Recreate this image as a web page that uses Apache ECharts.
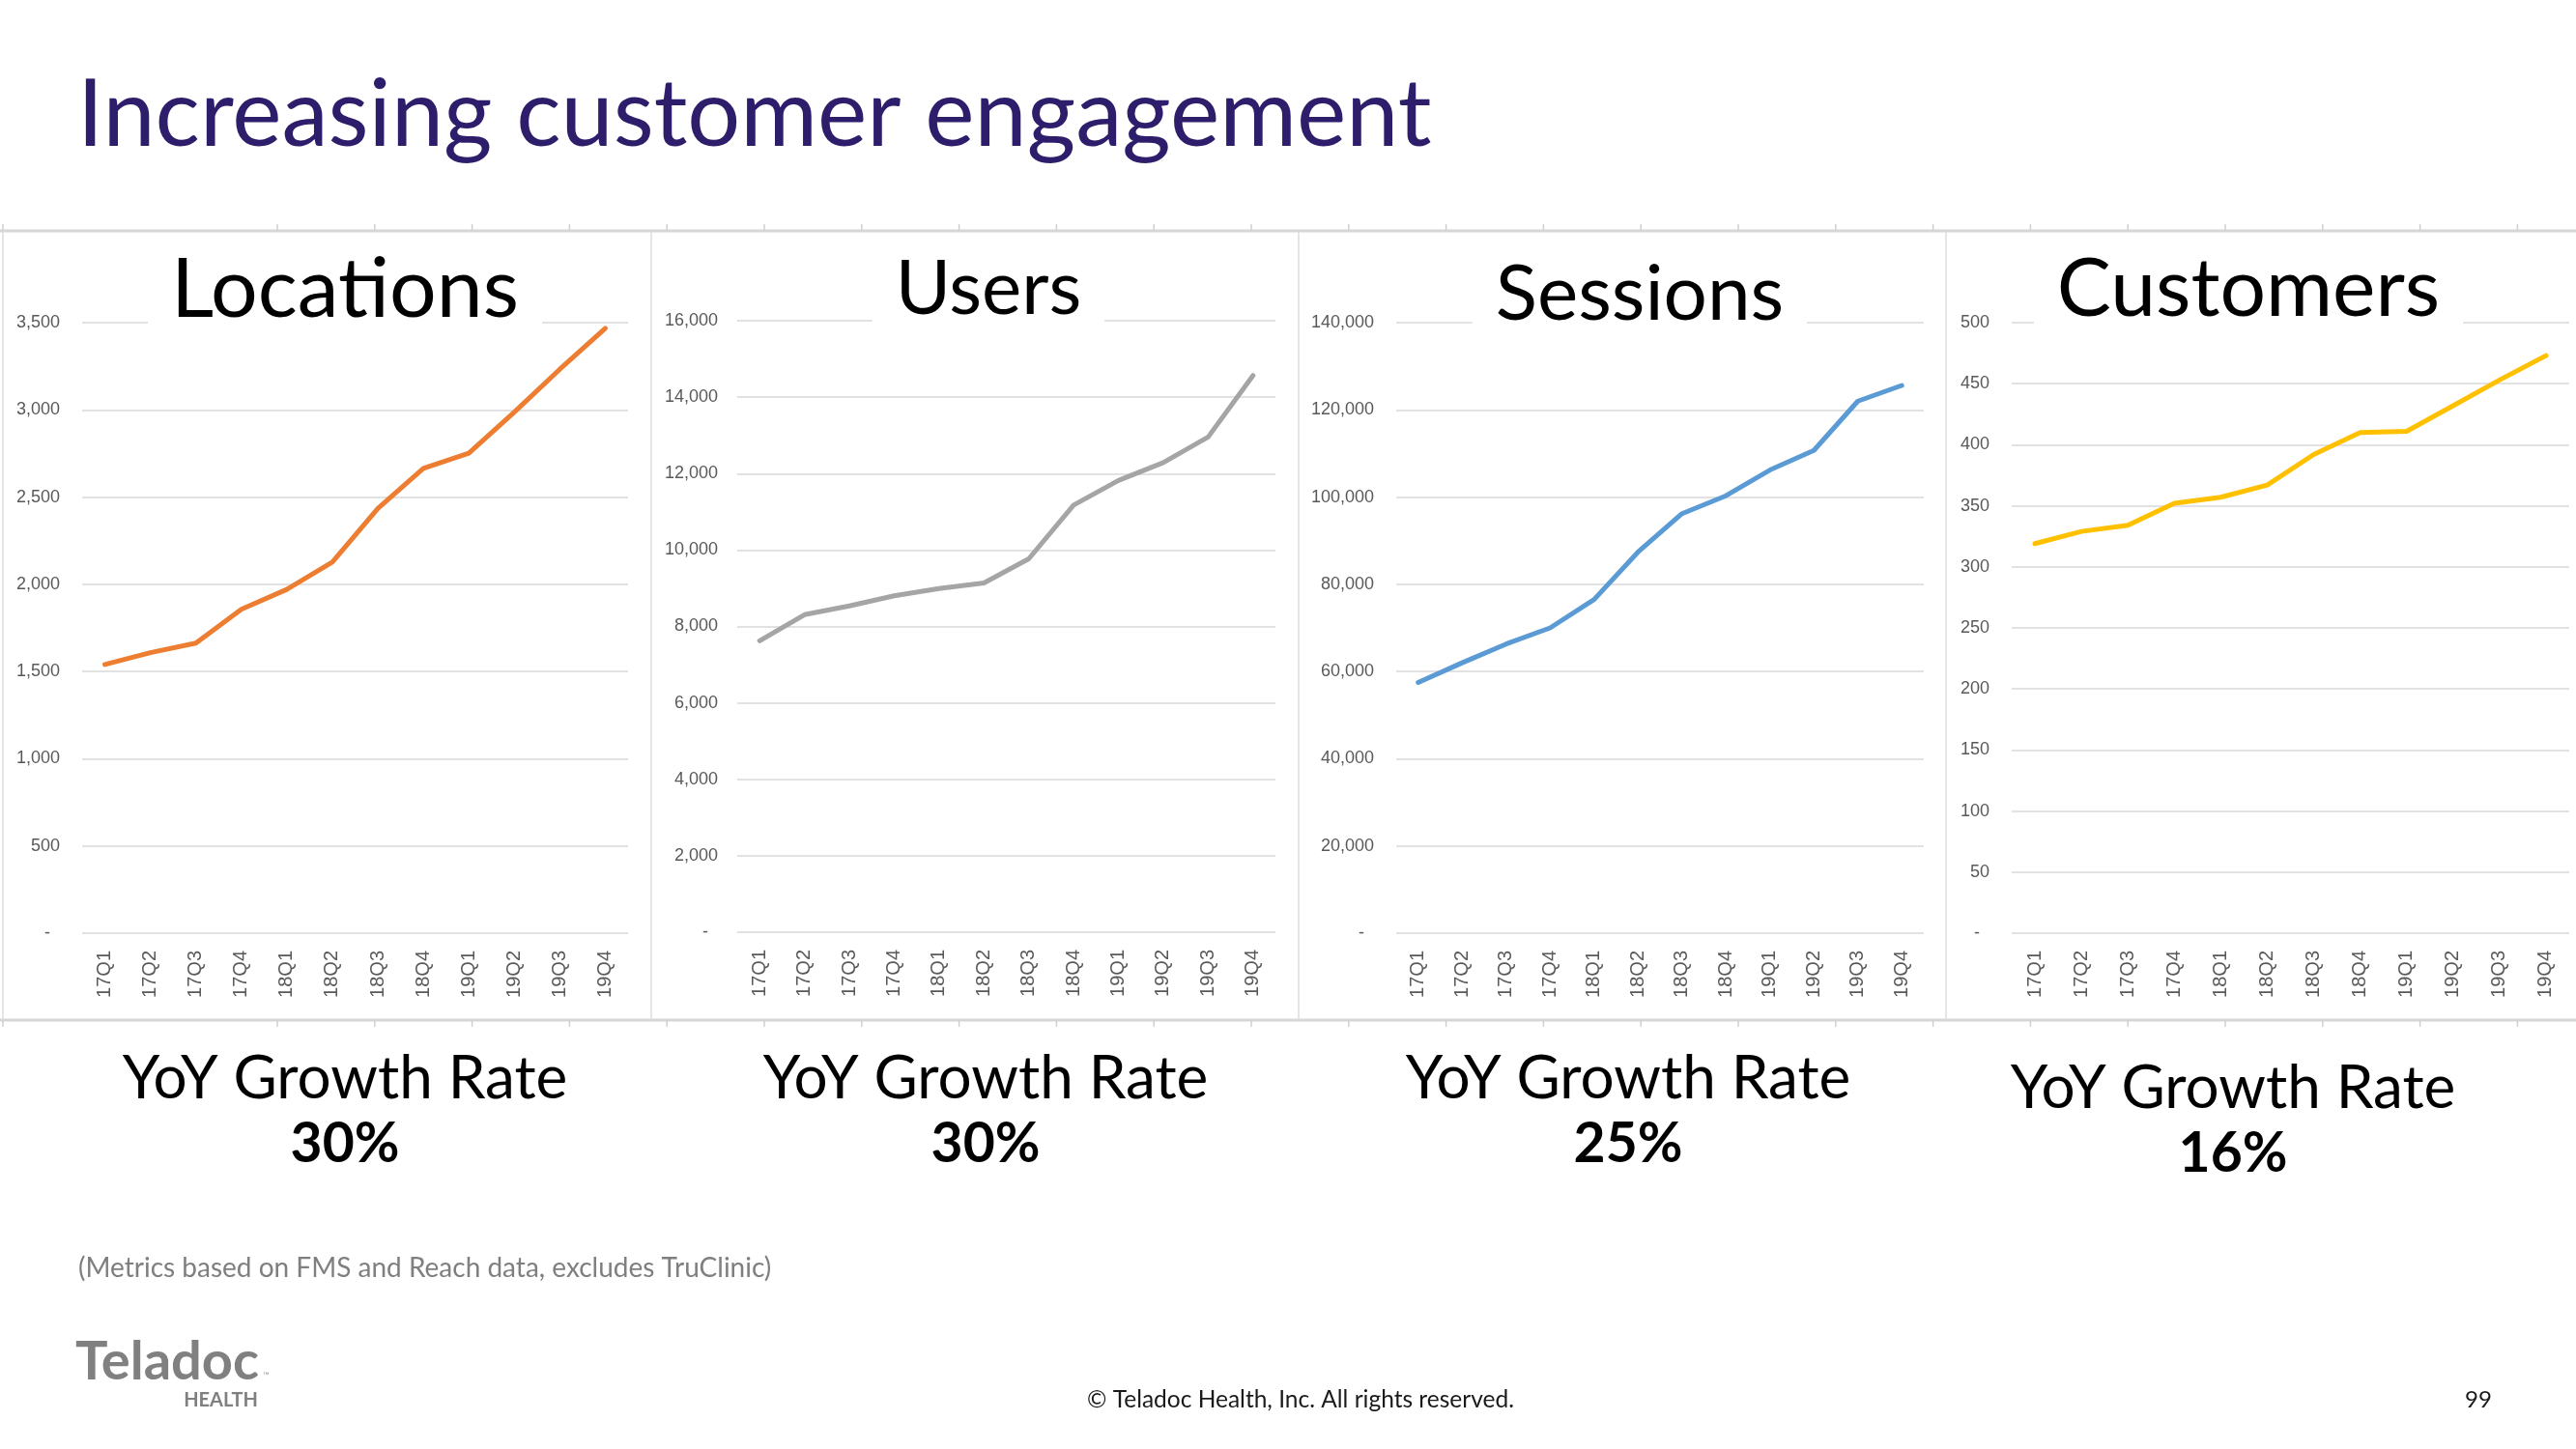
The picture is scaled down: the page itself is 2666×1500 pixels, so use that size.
<!DOCTYPE html>
<html>
<head>
<meta charset="utf-8">
<script src="https://cdn.jsdelivr.net/npm/echarts@6/dist/echarts.min.js"></script>
<style>
html,body{margin:0;padding:0;background:#fff;}
#chart{width:2666px;height:1500px;}
</style>
</head>
<body>
<div id="chart"></div>
<script>
// ---- data ----
const categories = ['17Q1','17Q2','17Q3','17Q4','18Q1','18Q2','18Q3','18Q4','19Q1','19Q2','19Q3','19Q4'];
const locations = [1540, 1608, 1663, 1857, 1971, 2127, 2435, 2664, 2752, 2987, 3233, 3468];
const users = [7625, 8308, 8536, 8804, 8992, 9139, 9769, 11176, 11819, 12288, 12958, 14566];
const sessions = [57500, 62000, 66300, 70000, 76500, 87400, 96200, 100300, 106200, 110700, 122000, 125600];
const customers = [319, 329, 334, 352, 357, 367, 392, 410, 411, 432, 453, 473];
const panelTitles = ['Locations', 'Users', 'Sessions', 'Customers'];
const growthRates = ['30%', '30%', '25%', '16%'];
const growthLabel = 'YoY Growth Rate';
const yMax = [3500, 16000, 140000, 500];
const yInterval = [500, 2000, 20000, 50];
const slideTitle = 'Increasing customer engagement';
const footnote = '(Metrics based on FMS and Reach data, excludes TruClinic)';
const copyright = '\u00A9 Teladoc Health, Inc. All rights reserved.';
const pageNumber = '99';

// ---- layout / style ----
const seriesData = [locations, users, sessions, customers];
const colors = ['#ED7D31', '#A5A5A5', '#5B9BD5', '#FFC000'];
const grids = [
  {left: 85,   top: 334, width: 565, height: 632},
  {left: 763,  top: 332, width: 557, height: 633},
  {left: 1445, top: 334, width: 546, height: 632},
  {left: 2082, top: 334, width: 577, height: 632}
];
const titleCenters = [[357, 300], [1023, 300], [1697, 305], [2327, 300]];
const titleSizes = [86, 78, 80, 84];
const growthCenters = [[357, 1117, 1185], [1020, 1117, 1185], [1685, 1117, 1185], [2311, 1127, 1195]];

const chart = echarts.init(document.getElementById('chart'), null, {renderer: 'canvas'});

const gridOpts = [], xAxes = [], yAxes = [], series = [];
for (let i = 0; i < 4; i++) {
  gridOpts.push(Object.assign({outerBoundsMode: 'none', containLabel: false}, grids[i]));
  xAxes.push({
    type: 'category', gridIndex: i, data: categories, boundaryGap: true,
    axisLine: {show: false}, axisTick: {show: false},
    axisLabel: {rotate: 90, margin: 18, color: '#595959', fontSize: 20,
      fontFamily: 'Liberation Sans, Arial, sans-serif', interval: 0}
  });
  yAxes.push({
    type: 'value', gridIndex: i, min: 0, max: yMax[i], interval: yInterval[i],
    axisLine: {show: false}, axisTick: {show: false},
    splitLine: {show: true, lineStyle: {color: '#d9d9d9', width: 1.5}},
    axisLabel: {margin: i === 1 ? 20 : 23, color: '#595959', fontSize: 18,
      fontFamily: 'Liberation Sans, Arial, sans-serif',
      formatter: v => v === 0 ? '-  ' : v.toLocaleString('en-US')}
  });
  series.push({
    type: 'line', xAxisIndex: i, yAxisIndex: i, data: seriesData[i],
    showSymbol: false, symbol: 'none', smooth: false, z: 3,
    lineStyle: {color: colors[i], width: 5, cap: 'round', join: 'round'},
    itemStyle: {color: colors[i]}
  });
}

const graphics = [];
// slide title
graphics.push({type: 'text', z: 50, style: {text: slideTitle, x: 80, y: 120,
  fill: '#2E1D6B', fontSize: 97, fontFamily: 'Lato, sans-serif', verticalAlign: 'middle', align: 'left'}});
// frame lines
const frameColor = '#d6d6d6';
graphics.push({type: 'line', z: 1, shape: {x1: 0, y1: 239, x2: 2666, y2: 239}, style: {stroke: frameColor, lineWidth: 3}});
graphics.push({type: 'line', z: 1, shape: {x1: 0, y1: 1056, x2: 2666, y2: 1056}, style: {stroke: frameColor, lineWidth: 3}});
[3, 674, 1344, 2014].forEach(x => {
  graphics.push({type: 'line', z: 1, shape: {x1: x, y1: 239, x2: x, y2: 1056}, style: {stroke: '#dcdcdc', lineWidth: 1.5}});
});
// ruler ticks (decoration)
const tickXs = [3];
for (let k = 0; k < 24; k++) tickXs.push(287 + k * 100.8);
tickXs.forEach(x => {
  graphics.push({type: 'line', z: 1, shape: {x1: x, y1: 232, x2: x, y2: 239}, style: {stroke: '#cfcfcf', lineWidth: 1.5}});
  graphics.push({type: 'line', z: 1, shape: {x1: x, y1: 1056, x2: x, y2: 1063}, style: {stroke: '#cfcfcf', lineWidth: 1.5}});
});
// panel titles and growth labels
for (let i = 0; i < 4; i++) {
  graphics.push({type: 'text', z: 50, style: {text: panelTitles[i], x: titleCenters[i][0], y: titleCenters[i][1],
    fill: '#000', fontSize: titleSizes[i], fontFamily: 'Lato, sans-serif', align: 'center', verticalAlign: 'middle',
    backgroundColor: '#fff', padding: [0, 24]}});
  graphics.push({type: 'text', z: 50, style: {text: growthLabel, x: growthCenters[i][0], y: growthCenters[i][1],
    fill: '#000', fontSize: 62, fontFamily: 'Lato, sans-serif', align: 'center', verticalAlign: 'middle'}});
  graphics.push({type: 'text', z: 50, style: {text: growthRates[i], x: growthCenters[i][0], y: growthCenters[i][2],
    fill: '#000', fontSize: 57, fontWeight: 'bold', fontFamily: 'Lato, sans-serif', align: 'center', verticalAlign: 'middle'}});
}
// footnote
graphics.push({type: 'text', z: 50, style: {text: footnote, x: 81, y: 1313,
  fill: '#7f7f7f', fontSize: 28, fontFamily: 'Lato, sans-serif', align: 'left', verticalAlign: 'middle'}});
// logo
graphics.push({type: 'text', z: 50, style: {text: 'Teladoc', x: 78, y: 1410,
  fill: '#808080', fontSize: 56, fontWeight: 'bold', fontFamily: 'Lato, sans-serif', align: 'left', verticalAlign: 'middle'}});
graphics.push({type: 'text', z: 50, style: {text: '\u2122', x: 272, y: 1424,
  fill: '#9a9a9a', fontSize: 9, fontFamily: 'Lato, sans-serif', align: 'left', verticalAlign: 'middle'}});
graphics.push({type: 'text', z: 50, style: {text: 'HEALTH', x: 267, y: 1450,
  fill: '#808080', fontSize: 20, fontWeight: 'bold', fontFamily: 'Lato, sans-serif', align: 'right', verticalAlign: 'middle'}});
// footer
graphics.push({type: 'text', z: 50, style: {text: copyright, x: 1346, y: 1449,
  fill: '#1a1a1a', fontSize: 24.5, fontFamily: 'Lato, sans-serif', align: 'center', verticalAlign: 'middle'}});
graphics.push({type: 'text', z: 50, style: {text: pageNumber, x: 2565, y: 1449,
  fill: '#1a1a1a', fontSize: 24, fontFamily: 'Lato, sans-serif', align: 'center', verticalAlign: 'middle'}});

chart.setOption({
  animation: false,
  backgroundColor: '#fff',
  grid: gridOpts,
  xAxis: xAxes,
  yAxis: yAxes,
  series: series,
  graphic: {elements: graphics}
});
</script>
</body>
</html>
